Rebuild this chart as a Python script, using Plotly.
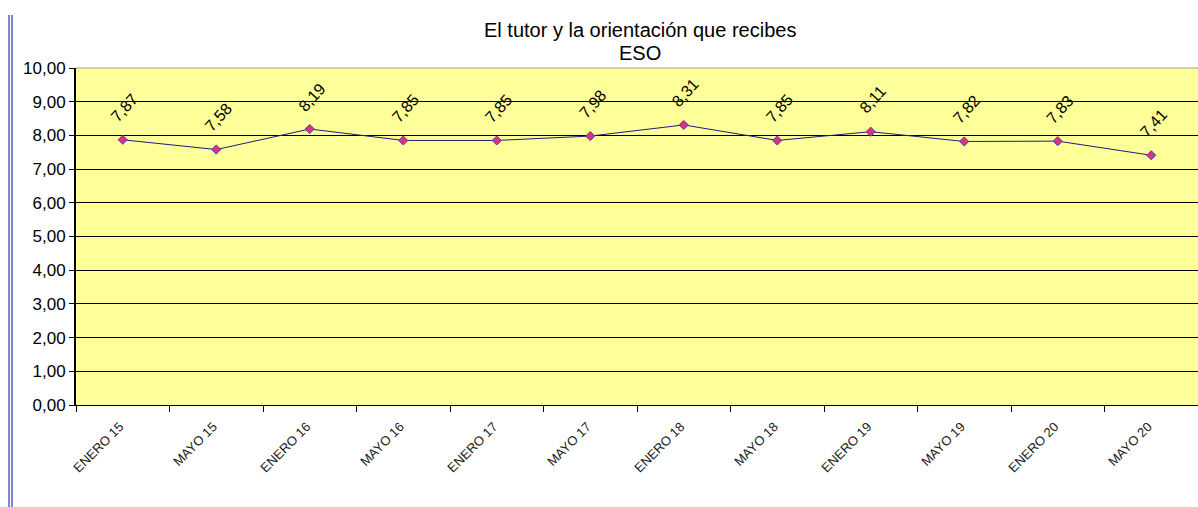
import plotly.graph_objects as go

categories = ["ENERO 15", "MAYO 15", "ENERO 16", "MAYO 16", "ENERO 17", "MAYO 17",
              "ENERO 18", "MAYO 18", "ENERO 19", "MAYO 19", "ENERO 20", "MAYO 20"]
values = [7.87, 7.58, 8.19, 7.85, 7.85, 7.98, 8.31, 7.85, 8.11, 7.82, 7.83, 7.41]
y_ticks = [0, 1, 2, 3, 4, 5, 6, 7, 8, 9, 10]

fig = go.Figure()
fig.add_trace(go.Scatter(
    x=categories, y=values, mode="lines+markers",
    line=dict(color="#1c1c80", width=1),
    marker=dict(symbol="diamond", size=7, color="#e0307a", line=dict(color="#4040c0", width=1)),
    showlegend=False, hoverinfo="skip",
))

for c, v in zip(categories, values):
    fig.add_annotation(x=c, y=v, text=f"{v:.2f}".replace(".", ","), showarrow=False,
                       textangle=-48, yshift=32, xshift=2,
                       font=dict(family="Arial, Liberation Sans", size=16, color="#000000"))

L, T, B = 76, 68, 102
W, H = 1198, 507
ph = H - T - B
pw = W - L
for xp in (9, 12):
    fig.add_shape(type="line", xref="paper", yref="paper",
                  x0=(xp - L) / pw, x1=(xp - L) / pw,
                  y0=(H - B - 15) / ph, y1=(H - B - 507) / ph,
                  line=dict(color="#5a5ac8", width=1.5))

tx = (640 - L) / pw
for txt, yp in (("El tutor y la orientación que recibes", 30), ("ESO", 53)):
    fig.add_annotation(xref="paper", yref="paper", x=tx, y=(H - B - yp) / ph, text=txt,
                       showarrow=False, xanchor="center", yanchor="middle",
                       font=dict(family="Arial, Liberation Sans", size=20, color="#000000"))

fig.update_layout(
    width=W, height=H,
    margin=dict(l=L, r=0, t=T, b=B),
    paper_bgcolor="white", plot_bgcolor="#ffff99",
    separators=",.",
    font=dict(family="Arial, Liberation Sans", color="#000000"),
)
fig.update_xaxes(range=[-0.5, 11.5], tickson="boundaries", ticks="outside", ticklen=6,
                 tickcolor="#000000", ticklabelstandoff=8, ticklabelshift=-3,
                 tickangle=-45, tickfont=dict(size=13, color="#222222"),
                 showline=True, linecolor="#000000", linewidth=1, showgrid=False,
                 automargin=False, mirror=False)
fig.update_yaxes(range=[0, 10], tickvals=y_ticks, tickformat=".2f", ticks="outside", ticklen=5,
                 tickcolor="#000000", tickfont=dict(size=17, color="#000000"),
                 showline=True, linecolor="#000000", linewidth=2, automargin=False,
                 showgrid=True, gridcolor="#000000", gridwidth=1, zeroline=False)
fig.add_shape(type="line", xref="paper", yref="paper", x0=0, x1=1, y0=1, y1=1,
              line=dict(color="#a0a0a0", width=1))

fig.write_html("out.html", config={"displayModeBar": False},
               post_script="document.body.style.margin='0';document.body.style.overflow='hidden';")
